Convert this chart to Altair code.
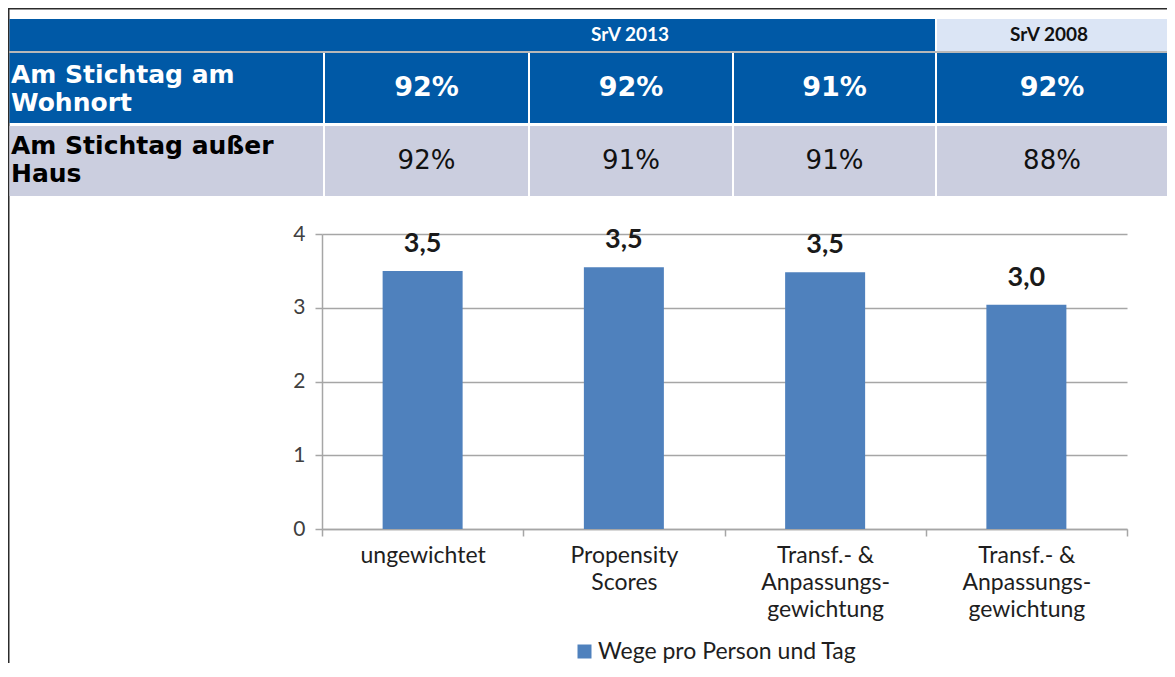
import altair as alt
import pandas as pd

# ---------------- data ----------------
cat_keys = ["c1", "c2", "c3", "c4"]
cat_labels = ["ungewichtet", "Propensity|Scores",
              "Transf.- &|Anpassungs-|gewichtung", "Transf.- &|Anpassungs-|gewichtung"]
values = [3.50, 3.55, 3.48, 3.04]
value_labels = ["3,5", "3,5", "3,5", "3,0"]
series_name = "Wege pro Person und Tag"

header_labels = ["SrV 2013", "SrV 2008"]
row_labels = ["Am Stichtag am|Wohnort", "Am Stichtag außer|Haus"]
row1_values = ["92%", "92%", "91%", "92%"]
row2_values = ["92%", "91%", "91%", "88%"]

# ---------------- layout (canvas pixels) ----------------
PL, PT, PW, PH, PB, PR = 314, 226, 805, 295, 134, 40
W = PL + PW + PR
H = PT + PH + PB
col_edges = [(1.5, 315), (317, 520), (522, 724), (726, 927), (929, W)]
col_centers = [(a + b) / 2 for a, b in col_edges[1:]]
hdr_y = (11, 43)
row1_y = (45, 115)
row2_y = (118, 188)

BLUE = "#0059A6"
LIGHT = "#DBE5F5"
GRAY = "#CBCEDF"
AXIS_GRAY = "#A6A6A6"

px_x = alt.Scale(domain=[0, W], range=[-PL, W - PL], nice=False, zero=False)
px_y = alt.Scale(domain=[0, H], range=[-PT, H - PT], nice=False, zero=False)

# table rectangles
rects = []
rects.append(dict(x=0, x2=W, y=0, y2=1.5, fill="#2b2b2b"))        # frame top
rects.append(dict(x=0, x2=1.5, y=0, y2=H, fill="#2b2b2b"))        # frame left
rects.append(dict(x=1.5, x2=927, y=hdr_y[0], y2=hdr_y[1], fill=BLUE))
rects.append(dict(x=929, x2=W, y=hdr_y[0], y2=hdr_y[1], fill=LIGHT))
rects.append(dict(x=1.5, x2=W, y=hdr_y[1], y2=row1_y[0], fill="#B8B8B8"))
for (a, b) in col_edges:
    rects.append(dict(x=a, x2=b, y=row1_y[0], y2=row1_y[1], fill=BLUE))
    rects.append(dict(x=a, x2=b, y=row2_y[0], y2=row2_y[1], fill=GRAY))
rect_df = pd.DataFrame(rects)

table_rects = alt.Chart(rect_df).mark_rect().encode(
    x=alt.X("x:Q", scale=px_x, axis=None),
    x2="x2:Q",
    y=alt.Y("y:Q", scale=px_y, axis=None),
    y2="y2:Q",
    color=alt.Color("fill:N", scale=None),
)


def text_layer(df, **mark):
    return alt.Chart(df).transform_calculate(
        lines="split(datum.t, '|')"
    ).mark_text(**mark).encode(
        x=alt.X("x:Q", scale=px_x, axis=None),
        y=alt.Y("y:Q", scale=px_y, axis=None),
        text="lines:N",
        color=alt.Color("c:N", scale=None),
    )


hdr_mid = (hdr_y[0] + hdr_y[1]) / 2
hdr_df = pd.DataFrame({
    "x": [(col_edges[1][0] + col_edges[3][1]) / 2, 1041],
    "y": [hdr_mid, hdr_mid],
    "t": header_labels,
    "c": ["white", "#111111"],
})
hdr_text = text_layer(hdr_df, font="Lato", fontWeight="bold", fontSize=19,
                      align="center", baseline="middle")

r1_mid = (row1_y[0] + row1_y[1]) / 2
r2_mid = (row2_y[0] + row2_y[1]) / 2
lab_df = pd.DataFrame({
    "x": [3, 3],
    "y": [67, 138],
    "t": row_labels,
    "c": ["white", "#000000"],
})
lab_text = text_layer(lab_df, font="DejaVu Sans", fontWeight="bold", fontSize=25,
                      align="left", baseline="middle", lineHeight=28)

v1_df = pd.DataFrame({"x": col_centers, "y": [r1_mid] * 4, "t": row1_values, "c": ["white"] * 4})
v1_text = text_layer(v1_df, font="DejaVu Sans", fontWeight="bold", fontSize=27,
                     align="center", baseline="middle")
v2_df = pd.DataFrame({"x": col_centers, "y": [r2_mid] * 4, "t": row2_values, "c": ["#111111"] * 4})
v2_text = text_layer(v2_df, font="DejaVu Sans", fontSize=26,
                     align="center", baseline="middle")

# ---------------- bar chart ----------------
bar_df = pd.DataFrame({
    "cat": cat_keys,
    "value": values,
    "label": value_labels,
    "series": [series_name] * len(cat_keys),
})

label_expr = ""
for k, l in zip(cat_keys, cat_labels):
    label_expr += f"datum.value == '{k}' ? split('{l}', '|') : "
label_expr += "''"

x_enc = alt.X(
    "cat:N",
    scale=alt.Scale(domain=cat_keys, paddingInner=0, paddingOuter=0),
    axis=alt.Axis(
        title=None, labelExpr=label_expr, labelAngle=0, labelFont="Lato",
        labelFontSize=23, labelColor="#1e1e1e", labelLineHeight=27,
        labelPadding=8, labelBaseline="top", tickBand="extent", tickSize=7,
        tickColor=AXIS_GRAY, tickWidth=1.5, domainColor=AXIS_GRAY,
        domainWidth=1.5, grid=False,
    ),
)
y_enc = alt.Y(
    "value:Q",
    scale=alt.Scale(domain=[0, 4], nice=False, zero=True),
    axis=alt.Axis(
        title=None, values=[0, 1, 2, 3, 4], format="d", labelFont="Lato",
        labelFontSize=21, labelColor="#404040", labelPadding=10, tickSize=7,
        tickColor=AXIS_GRAY, tickWidth=1.5, domainColor=AXIS_GRAY,
        domainWidth=1.5, grid=True, gridColor=AXIS_GRAY, gridWidth=1.5,
    ),
)

bars = alt.Chart(bar_df).mark_bar(size=80).encode(
    x=x_enc,
    y=y_enc,
    color=alt.Color(
        "series:N",
        scale=alt.Scale(range=["#4F81BD"]),
        legend=alt.Legend(
            orient="none", legendX=251, legendY=406, title=None,
            symbolType="square", symbolSize=196, symbolStrokeWidth=0,
            labelFont="Lato", labelFontSize=23, labelColor="#1e1e1e",
            labelOffset=2, labelLimit=500, padding=0,
        ),
    ),
)
bar_text = alt.Chart(bar_df).mark_text(
    font="Lato", fontWeight="bold", fontSize=27, dy=-19,
    baseline="alphabetic", color="#1a1a1a",
).encode(x=x_enc, y=y_enc, text="label:N")

bar_layer = alt.layer(bars, bar_text)

chart = alt.layer(
    table_rects, hdr_text, lab_text, v1_text, v2_text, bar_layer
).resolve_scale(
    x="independent", y="independent"
).properties(
    width=PW, height=PH,
    autosize=alt.AutoSizeParams(type="none"),
    padding={"left": PL, "top": PT, "right": PR, "bottom": PB},
    background="white",
).configure_view(stroke=None)

chart.save("out.html", embed_options={"renderer": "svg", "actions": False})
